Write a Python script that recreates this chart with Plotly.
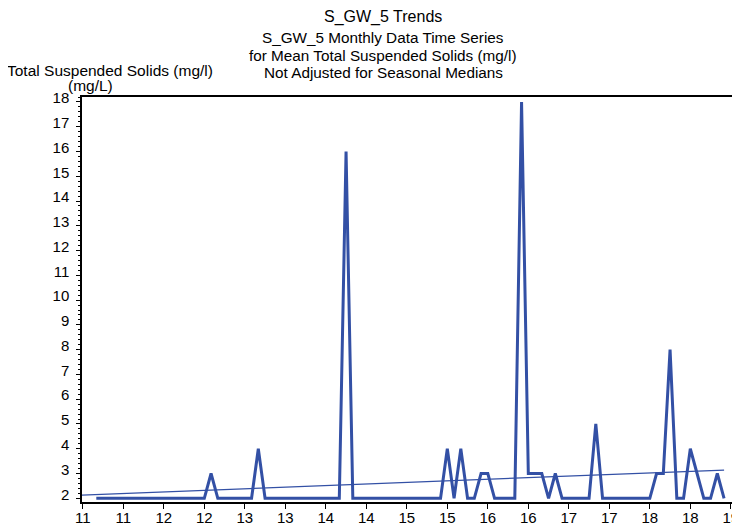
import plotly.graph_objects as go

# ---------------- data ----------------
# monthly values (mg/L); one row per 12 months, first month at x = 10.9167
start_x = 10.75 + 2 / 12
tss_values = [
    2, 2, 2, 2, 2, 2, 2, 2, 2, 2, 2, 2,      # m0-11
    2, 2, 2, 2, 2, 3, 2, 2, 2, 2, 2, 2,      # m12-23
    4, 2, 2, 2, 2, 2, 2, 2, 2, 2, 2, 2,      # m24-35
    2, 16, 2, 2, 2, 2, 2, 2, 2, 2, 2, 2,     # m36-47
    2, 2, 2, 2, 4, 2, 4, 2, 2, 3, 3, 2,      # m48-59
    2, 2, 2, 18, 3, 3, 3, 2, 3, 2, 2, 2,     # m60-71
    2, 2, 5, 2, 2, 2, 2, 2, 2, 2, 2, 3,      # m72-83
    3, 8, 2, 2, 4, 3, 2, 2, 3, 2,            # m84-93
]
tss_x = [start_x + i / 12 for i in range(len(tss_values))]

trend_x = [10.74, 18.667]
trend_y = [2.13, 3.14]

x_tickvals = [10.75 + 0.5 * k for k in range(17)]
x_ticktext = ["11", "11", "12", "12", "13", "13", "14", "14", "15",
              "15", "16", "16", "17", "17", "18", "18", "19"]
y_tickvals = list(range(2, 19))

title_text = "S_GW_5 Trends"
subtitle_lines = ["S_GW_5 Monthly Data Time Series",
                  "for Mean Total Suspended Solids (mg/l)",
                  "Not Adjusted for Seasonal Medians"]
ytitle_lines = ["Total Suspended Solids (mg/l)", "(mg/L)"]

# ---------------- layout constants ----------------
# the page body has an 8px margin, so the figure is drawn 8px right/down;
# screen coordinates below are converted into figure coordinates.
OFF = 8
W, H = 740 - OFF, 529 - OFF
ML, MR, MT, MB = 82 - OFF, 7, 97 - OFF, 27
PW, PH = W - ML - MR, H - MT - MB
FONT = "Liberation Sans, Arial, sans-serif"
BLUE = "rgb(51,80,165)"


def px_x(screen_x):
    return (screen_x - OFF - ML) / PW


def px_y(screen_y):
    return (H - MB - (screen_y - OFF)) / PH


fig = go.Figure()
fig.add_trace(go.Scatter(x=tss_x, y=tss_values, mode="lines",
                         line=dict(color=BLUE, width=3), showlegend=False))
fig.add_trace(go.Scatter(x=trend_x, y=trend_y, mode="lines",
                         line=dict(color=BLUE, width=1.2), showlegend=False))

annotations = [
    dict(text=title_text, x=px_x(383), y=px_y(17), font=dict(size=16)),
    dict(text=subtitle_lines[0], x=px_x(383), y=px_y(37), font=dict(size=15.3)),
    dict(text=subtitle_lines[1], x=px_x(383), y=px_y(55), font=dict(size=15.3)),
    dict(text=subtitle_lines[2], x=px_x(383), y=px_y(73), font=dict(size=15.3)),
    dict(text=ytitle_lines[0], x=px_x(5), y=px_y(70), xanchor="left", font=dict(size=15.5)),
    dict(text=ytitle_lines[1], x=px_x(90), y=px_y(86), font=dict(size=15.5)),
]
for a in annotations:
    a.update(xref="paper", yref="paper", showarrow=False, yanchor="middle",
             xanchor=a.get("xanchor", "center"))
    a["font"].update(family=FONT, color="black")

fig.update_layout(
    width=W, height=H, autosize=False,
    margin=dict(l=ML, r=MR, t=MT, b=MB, pad=0, autoexpand=False),
    paper_bgcolor="white", plot_bgcolor="white",
    font=dict(family=FONT, color="black"),
    annotations=annotations,
)
fig.update_xaxes(range=[10.74, 18.777], tickvals=x_tickvals, ticktext=x_ticktext,
                 ticks="outside", ticklen=5, tickwidth=1, tickcolor="black",
                 tickfont=dict(size=15, family=FONT, color="black"),
                 ticklabelstandoff=-4, ticklabeloverflow="allow",
                 showline=True, linecolor="black", linewidth=1.5, mirror=True,
                 showgrid=False, zeroline=False, automargin=False)
fig.update_yaxes(range=[1.85, 18.2], tickvals=y_tickvals,
                 ticks="outside", ticklen=4, tickwidth=1, tickcolor="black",
                 tickfont=dict(size=15, family=FONT, color="black"),
                 ticklabelshift=-4, ticklabelstandoff=4, ticklabeloverflow="allow",
                 minor=dict(dtick=0.2, tick0=2, ticks="outside", ticklen=2,
                            tickcolor="black", showgrid=False),
                 showline=True, linecolor="black", linewidth=1.5, mirror=True,
                 showgrid=False, zeroline=False, automargin=False)

fig.write_html("out.html")
